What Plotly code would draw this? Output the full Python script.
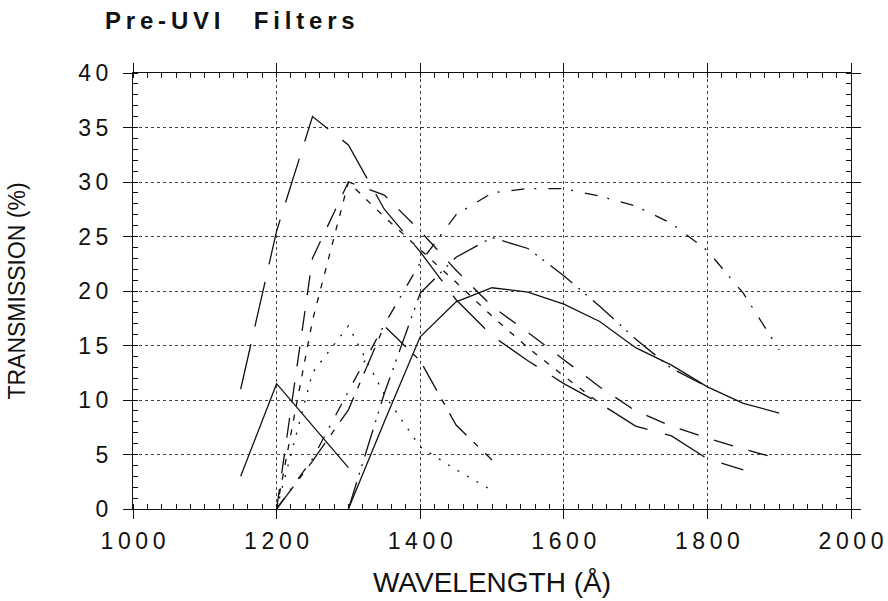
import plotly.graph_objects as go

# ---------------- data ----------------
wl_s1 = [1150, 1200, 1300]
tr_s1 = [3.0, 11.5, 3.8]

wl_c2 = [1150, 1200, 1250, 1300, 1350, 1400, 1450, 1500, 1550, 1600, 1650, 1700, 1750, 1800, 1850]
tr_c2 = [11.0, 25.5, 36.0, 33.4, 27.5, 23.6, 19.2, 15.9, 13.6, 11.5, 9.7, 7.6, 6.7, 4.6, 3.6]

wl_c3 = [1200, 1250, 1300, 1350, 1400, 1450, 1500, 1550, 1600, 1650, 1700, 1750, 1800, 1850, 1900]
tr_c3 = [0.0, 23.0, 30.0, 28.8, 25.5, 21.9, 18.6, 16.2, 13.7, 11.2, 9.0, 7.6, 6.5, 5.5, 4.6]

wl_c4 = [1200, 1250, 1300, 1350, 1400, 1450, 1500, 1550, 1600, 1650]
tr_c4 = [0.0, 17.3, 30.0, 26.8, 23.8, 20.8, 17.7, 14.8, 12.2, 9.7]

wl_c5 = [1200, 1250, 1300, 1350, 1400, 1450, 1500]
tr_c5 = [0.0, 4.4, 9.1, 16.8, 13.6, 7.7, 4.5]

wl_c6 = [1200, 1250, 1300, 1350, 1400, 1450, 1500]
tr_c6 = [0.0, 12.5, 16.8, 10.5, 5.7, 3.6, 1.7]

wl_s2 = [1300, 1350, 1400, 1450, 1500, 1550, 1600, 1650, 1700, 1750, 1800, 1850, 1900]
tr_s2 = [0.0, 8.0, 15.8, 19.0, 20.3, 19.9, 18.8, 17.2, 14.8, 13.2, 11.2, 9.7, 8.8]

wl_c8 = [1300, 1350, 1400, 1450, 1500, 1550, 1600, 1650, 1700, 1750, 1800]
tr_c8 = [0.0, 10.6, 19.8, 23.1, 24.9, 23.9, 21.4, 18.6, 15.6, 12.9, 11.2]

wl_c9 = [1200, 1250, 1300, 1350, 1400, 1450, 1500, 1550, 1600, 1650, 1700, 1750, 1800, 1850, 1900]
tr_c9 = [0.0, 4.6, 10.8, 16.9, 22.6, 27.0, 29.0, 29.4, 29.4, 28.7, 27.8, 26.2, 23.7, 19.8, 14.6]

x_ticks = [1000, 1200, 1400, 1600, 1800, 2000]
y_ticks = [0, 5, 10, 15, 20, 25, 30, 35, 40]

title_words = ["Pre-UVI", "Filters"]
x_title = "WAVELENGTH (Å)"
y_title = "TRANSMISSION (%)"

# ---------------- figure ----------------
TS = "\u2009"  # thin space used as letter spacing, like the original lettering
FONT = "Liberation Sans, Arial, sans-serif"
INK = "#111111"


def spaced(s):
    return TS.join(str(s))


title_text = ("\u00a0" * 5).join(spaced(w) for w in title_words)

series = [
    (wl_s1, tr_s1, "solid"),
    (wl_c2, tr_c2, "46px,18px"),
    (wl_c3, tr_c3, "20px,16px"),
    (wl_c4, tr_c4, "6px,9px"),
    (wl_c5, tr_c5, "28px,10px,6px,10px"),
    (wl_c6, tr_c6, "2px,9px"),
    (wl_s2, tr_s2, "solid"),
    (wl_c8, tr_c8, "28px,8px,2px,7px,2px,8px"),
    (wl_c9, tr_c9, "13px,10px,2px,12px"),
]

fig = go.Figure()
for wl, tr, dash in series:
    fig.add_trace(go.Scatter(
        x=wl, y=tr, mode="lines",
        line=dict(color=INK, width=1.3, dash=dash),
        showlegend=False, hoverinfo="skip",
    ))

tick_font = dict(family=FONT, size=23, color=INK)
axis_common = dict(
    showline=True, linecolor=INK, linewidth=1, mirror="allticks",
    ticks="outside", ticklen=9, tickwidth=1, tickcolor=INK,
    showgrid=True, gridcolor="#444444", gridwidth=1, griddash="dot",
    zeroline=False, tickfont=tick_font, automargin=False,
)

fig.update_xaxes(
    range=[1000, 2000], tickmode="array", tickvals=x_ticks,
    ticktext=[spaced(v) for v in x_ticks],
    minor=dict(dtick=20, ticks="inside", ticklen=5, tickcolor=INK, showgrid=False),
    title=dict(text=x_title, font=dict(family=FONT, size=28, color=INK), standoff=19),
    ticklabelstandoff=2,
    **axis_common,
)
fig.update_yaxes(
    range=[0, 40], tickmode="array", tickvals=y_ticks,
    ticktext=[spaced(v) for v in y_ticks],
    minor=dict(dtick=1, ticks="inside", ticklen=5, tickcolor=INK, showgrid=False),
    title=dict(text=y_title, font=dict(family=FONT, size=23, color=INK), standoff=46),
    ticklabelstandoff=10,
    **axis_common,
)

fig.update_layout(
    width=888, height=601,
    margin=dict(l=133, r=37, t=73, b=92),
    paper_bgcolor="white", plot_bgcolor="white",
    title=dict(
        text=title_text, xref="container", yref="container",
        x=105 / 888, y=1 - 21 / 601, xanchor="left", yanchor="middle",
        font=dict(family=FONT, size=24, color=INK, weight="bold"),
    ),
)

fig.write_html("out.html")
